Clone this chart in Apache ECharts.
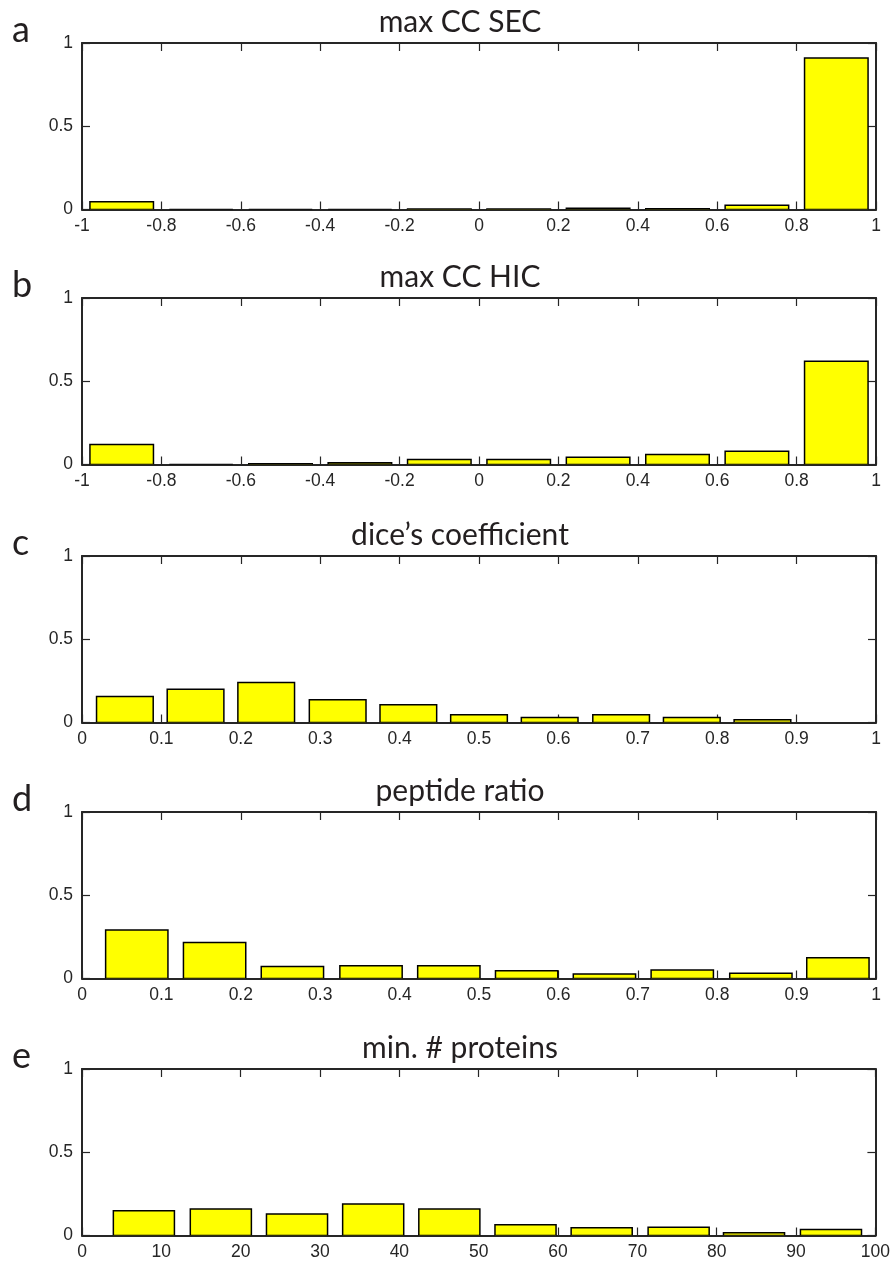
<!DOCTYPE html>
<html>
<head>
<meta charset="utf-8">
<script src="https://cdn.jsdelivr.net/npm/echarts@6/dist/echarts.min.js"></script>
<style>
html,body{margin:0;padding:0;background:#fff;}
#chart{width:893px;height:1262px;}
</style>
</head>
<body>
<div id="chart"></div>
<script>
// ---- data ----
const panelLetters = ['a', 'b', 'c', 'd', 'e'];
const panelTitles = ['max CC SEC', 'max CC HIC', 'dice\u2019s coefficient', 'peptide ratio', 'min. # proteins'];

const ccCenters = [-0.9, -0.7, -0.5, -0.3, -0.1, 0.1, 0.3, 0.5, 0.7, 0.9];
const secValues = [0.046, 0, 0, 0, 0.003, 0.003, 0.008, 0.004, 0.026, 0.91];
const hicValues = [0.12, 0, 0.004, 0.01, 0.03, 0.03, 0.044, 0.06, 0.08, 0.62];

const diceCenters = [0.054, 0.143, 0.232, 0.322, 0.411, 0.500, 0.589, 0.679, 0.768, 0.857];
const diceValues = [0.156, 0.2, 0.24, 0.136, 0.106, 0.046, 0.03, 0.046, 0.03, 0.016];

const peptideCenters = [0.069, 0.167, 0.265, 0.364, 0.462, 0.560, 0.658, 0.756, 0.855, 0.952];
const peptideValues = [0.292, 0.216, 0.072, 0.077, 0.077, 0.047, 0.027, 0.051, 0.031, 0.125];

const proteinCenters = [7.8, 17.5, 27.1, 36.7, 46.3, 55.9, 65.5, 75.2, 84.7, 94.4];
const proteinValues = [0.149, 0.159, 0.129, 0.189, 0.159, 0.064, 0.046, 0.05, 0.016, 0.036];

// x-axis tick ranges: [min, max, interval]
const xTickRanges = [[-1, 1, 0.2], [-1, 1, 0.2], [0, 1, 0.1], [0, 1, 0.1], [0, 100, 10]];
const yTickRange = [0, 1, 0.5];

const panelCenters = [ccCenters, ccCenters, diceCenters, peptideCenters, proteinCenters];
const panelValues = [secValues, hicValues, diceValues, peptideValues, proteinValues];

// ---- layout / style ----
const gridTops = [43, 298, 556, 812, 1069];
const gridHeight = 166.5;
const gridLeft = 82, gridRight = 17;
const axisColor = '#262626';
const labelFont = '"Liberation Sans", Arial, Helvetica, sans-serif';

const chart = echarts.init(document.getElementById('chart'), null, {renderer: 'canvas'});

const grids = [], xAxes = [], yAxes = [], series = [], graphics = [];

panelTitles.forEach((title, i) => {
  grids.push({left: gridLeft, right: gridRight, top: gridTops[i], height: gridHeight, containLabel: false});
  const [xmin, xmax, xint] = xTickRanges[i];
  const common = {
    type: 'value', gridIndex: i, min: xmin, max: xmax, interval: xint,
    axisLine: {show: true, onZero: false, lineStyle: {color: axisColor, width: 2}},
    axisTick: {show: true, inside: true, length: 8, lineStyle: {color: axisColor, width: 1.2}},
    splitLine: {show: false}
  };
  xAxes.push(Object.assign({}, common, {
    position: 'bottom',
    axisLabel: {show: true, margin: 8, color: axisColor, fontFamily: labelFont, fontSize: 17.5}
  }));
  xAxes.push(Object.assign({}, common, {
    position: 'top',
    axisLabel: {show: false}
  }));
  const ycommon = {
    type: 'value', gridIndex: i, min: yTickRange[0], max: yTickRange[1], interval: yTickRange[2],
    axisLine: {show: true, onZero: false, lineStyle: {color: axisColor, width: 2}},
    axisTick: {show: true, inside: true, length: 8, lineStyle: {color: axisColor, width: 1.2}},
    splitLine: {show: false}
  };
  yAxes.push(Object.assign({}, ycommon, {
    position: 'left',
    axisLabel: {show: true, margin: 9, color: axisColor, fontFamily: labelFont, fontSize: 17.5}
  }));
  yAxes.push(Object.assign({}, ycommon, {
    position: 'right',
    axisLabel: {show: false}
  }));

  const centers = panelCenters[i];
  const binW = 0.8 * (centers[centers.length - 1] - centers[0]) / (centers.length - 1);
  series.push({
    type: 'custom',
    xAxisIndex: 2 * i,
    yAxisIndex: 2 * i,
    clip: true,
    data: centers.map((c, k) => [c, panelValues[i][k]]),
    renderItem: function (params, api) {
      const x = api.value(0), y = api.value(1);
      const p0 = api.coord([x - binW / 2, y]);
      const p1 = api.coord([x + binW / 2, 0]);
      return {
        type: 'rect',
        shape: {x: p0[0], y: p0[1], width: p1[0] - p0[0], height: p1[1] - p0[1]},
        style: {fill: '#ffff00', stroke: '#000000', lineWidth: 1.5}
      };
    }
  });

  graphics.push({
    type: 'text', x: 460, y: gridTops[i] - 21,
    style: {text: title, font: '30px Lato', fill: '#231f20', align: 'center', verticalAlign: 'middle'}
  });
  graphics.push({
    type: 'text', x: 12, y: gridTops[i] - 13,
    style: {text: panelLetters[i], font: '36px Lato', fill: '#231f20', align: 'left', verticalAlign: 'middle'}
  });
});

chart.setOption({
  animation: false,
  backgroundColor: '#ffffff',
  grid: grids,
  xAxis: xAxes,
  yAxis: yAxes,
  series: series,
  graphic: graphics
});
</script>
</body>
</html>
